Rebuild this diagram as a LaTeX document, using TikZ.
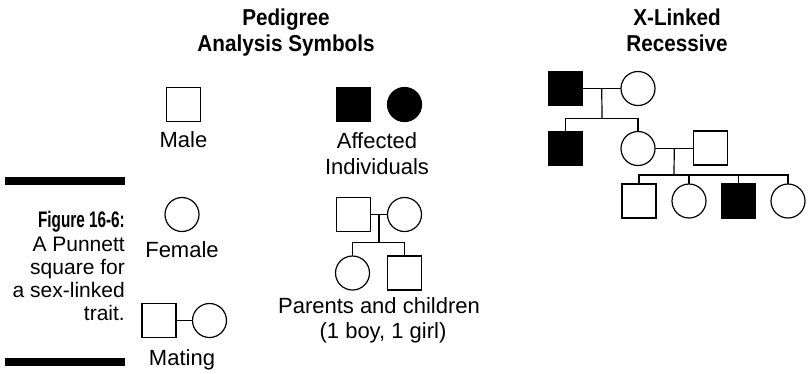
\documentclass[tikz,border=0pt]{standalone}
\usepackage{fontspec}
\setmainfont{Liberation Sans}
\newfontfamily\headfont{Liberation Sans}[FakeStretch=0.90]
\newfontfamily\figfont{Liberation Sans}[FakeStretch=0.68]
\usetikzlibrary{calc}
\begin{document}
\begin{tikzpicture}[x=1pt,y=-1pt,
  person/.style={draw, line width=1.2pt, minimum size=34pt, inner sep=0pt, outer sep=0pt},
  male/.style={person, rectangle},
  female/.style={person, circle},
  aff/.style={fill=black},
  link/.style={line width=1.2pt},
  lbl/.style={font=\fontsize{22}{26}\selectfont, anchor=base, inner sep=0pt},
  head/.style={font=\headfont\bfseries\fontsize{23}{26}\selectfont, anchor=base, inner sep=0pt},
  captext/.style={font=\fontsize{21}{25}\selectfont, anchor=base east, inner sep=0pt},
  bar/.style={fill=black}]
\useasboundingbox (0,0) rectangle (811,373);
% caption
\fill[bar] (5,177) rectangle (125,185);
\fill[bar] (5,358) rectangle (125,366);
\node[captext, font=\figfont\bfseries\fontsize{22.5}{25}\selectfont] (c1) at (125,227) {Figure 16-6:};
\node[captext] (c2) at (125,251) {A Punnett};
\node[captext] (c3) at (125,274) {square for};
\node[captext] (c4) at (125,297) {a sex-linked};
\node[captext] (c5) at (125,320) {trait.};
% headings
\node[head] (h1) at (286,25) {Pedigree};
\node[head] (h2) at (286,51) {Analysis Symbols};
\node[head] (h3) at (677,25) {X-Linked};
\node[head] (h4) at (677,51) {Recessive};
% symbols
\node[male] (ma) at (183.5,104.5) {};
\node[lbl] (tma) at (183.5,147) {Male};
\node[male, aff] (am) at (353.5,104.5) {};
\node[female, aff] (af) at (404.5,104.5) {};
\node[lbl] (ta1) at (377,148) {Affected};
\node[lbl] (ta2) at (377,174) {Individuals};
\node[female] (fe) at (182,214.5) {};
\node[lbl] (tfe) at (182,257) {Female};
\node[male] (mm) at (159,320.5) {};
\node[female] (mf) at (209.5,320.5) {};
\draw[link] (mm.east) -- (mf.west);
\node[lbl] (tmt) at (182,365) {Mating};
% parents and children
\node[male] (pm) at (353.5,214.5) {};
\node[female] (pf) at (404.5,214.5) {};
\node[female] (k1) at (352.5,273) {};
\node[male] (k2) at (404.5,273) {};
\draw[link] (pm.east) -- (pf.west);
\coordinate (pj) at ($(pm.east)!0.5!(pf.west)$);
\coordinate (ps) at (379,242.5);
\draw[link] (pj) -- (ps);
\draw[link] (k1.north) |- (ps) -| (k2.north);
\node[lbl] (tp1) at (379,313) {Parents and children};
\node[lbl] (tp2) at (383,338) {(1 boy, 1 girl)};
% X-linked pedigree
\node[male, aff] (g1m) at (565.5,88.5) {};
\node[female] (g1f) at (638,88.5) {};
\draw[link] (g1m.east) -- (g1f.west);
\coordinate (g1j) at ($(g1m.east)!0.5!(g1f.west)$);
\coordinate (g1s) at (602,118.3);
\draw[link] (g1j) -- (g1s);
\node[male, aff] (g2a) at (565.5,148.5) {};
\node[female] (g2b) at (638,148.5) {};
\node[male] (g2c) at (710.5,148) {};
\draw[link] (g2a.north) |- (g1s) -| (g2b.north);
\draw[link] (g2b.east) -- (g2c.west |- g2b.east);
\coordinate (g2j) at ($(g2b.east)!0.5!(g2c.west |- g2b.east)$);
\coordinate (g2s) at (674,175);
\draw[link] (g2j) -- (g2s);
\node[male] (g3a) at (639,201) {};
\node[female] (g3b) at (689,201) {};
\node[male, aff] (g3c) at (738.5,201) {};
\node[female] (g3d) at (788,201) {};
\draw[link] (g3a.north) |- (g2s) -| (g3d.north);
\draw[link] (g3b.north) -- (g3b.north |- g2s);
\draw[link] (g3c.north) -- (g3c.north |- g2s);
\end{tikzpicture}
\end{document}
